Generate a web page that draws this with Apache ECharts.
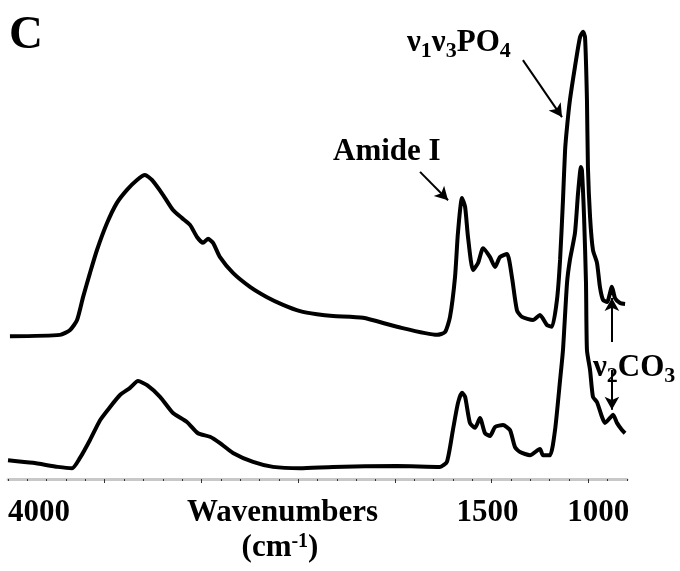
<!DOCTYPE html>
<html>
<head>
<meta charset="utf-8">
<script src="https://cdn.jsdelivr.net/npm/echarts@6/dist/echarts.min.js"></script>
<style>
  html, body { margin: 0; padding: 0; background: #fff; }
  #chart { width: 680px; height: 571px; }
</style>
</head>
<body>
<div id="chart"></div>
<script>
// wavenumbers (cm-1) and absorbance (arbitrary, stacked)
const upperWn = [3990, 3731, 3679, 3643, 3612, 3576, 3540, 3488, 3437, 3385, 3333, 3292, 3256, 3199, 3147, 3100, 3059, 3023, 2992, 2966, 2940, 2904, 2837, 2749, 2661, 2578, 2490, 2403, 2320, 2165, 1989, 1782, 1741, 1715, 1689, 1674, 1653, 1637, 1622, 1596, 1570, 1544, 1508, 1482, 1457, 1420, 1395, 1369, 1343, 1286, 1250, 1214, 1188, 1162, 1146, 1131, 1120, 1110, 1095, 1069, 1043, 1027, 1017, 1007, 1002, 991, 976, 955, 940, 924, 903, 878, 862, 836, 810];
const upperAbs = [31.8, 32.1, 33.2, 35.4, 40.5, 45.9, 51.0, 57.0, 61.5, 64.4, 66.6, 67.7, 66.6, 63.3, 59.9, 58.1, 56.6, 53.9, 52.6, 53.5, 52.6, 49.4, 45.9, 42.8, 40.5, 38.8, 37.4, 36.7, 36.3, 35.9, 33.9, 32.1, 32.7, 36.1, 45.0, 54.8, 62.6, 60.6, 53.9, 46.5, 48.1, 51.4, 49.4, 47.2, 49.4, 50.1, 45.0, 37.6, 36.1, 35.4, 36.5, 34.3, 33.9, 39.9, 48.8, 62.1, 73.3, 78.4, 84.4, 91.8, 98.4, 99.6, 98.4, 84.4, 69.5, 58.4, 51.0, 48.1, 42.8, 39.9, 39.4, 42.8, 40.3, 39.2, 39.0];

const lowerWn = [4000, 3871, 3742, 3669, 3628, 3576, 3524, 3473, 3421, 3369, 3328, 3281, 3214, 3147, 3075, 3018, 2956, 2904, 2837, 2733, 2630, 2490, 2320, 1989, 1767, 1731, 1700, 1674, 1653, 1637, 1612, 1586, 1560, 1534, 1508, 1482, 1441, 1405, 1379, 1353, 1301, 1250, 1234, 1198, 1172, 1146, 1131, 1110, 1095, 1069, 1053, 1038, 1033, 1022, 1012, 1007, 991, 976, 955, 929, 914, 888, 872, 852, 826, 810];
const lowerAbs = [4.2, 3.6, 2.7, 2.4, 4.7, 8.7, 13.1, 16.0, 18.7, 20.3, 21.8, 20.9, 18.3, 14.7, 12.7, 10.2, 9.4, 8.0, 5.8, 3.8, 2.7, 2.4, 2.7, 2.9, 2.7, 3.8, 10.9, 16.9, 19.2, 18.3, 12.5, 11.4, 13.6, 10.2, 9.6, 11.6, 12.0, 10.9, 7.1, 6.0, 5.3, 6.7, 5.3, 5.3, 10.9, 22.0, 28.7, 43.7, 48.8, 54.8, 63.7, 69.5, 68.8, 58.4, 43.7, 28.7, 24.3, 18.3, 17.1, 13.8, 12.5, 13.6, 14.3, 12.5, 10.9, 10.2];

const tickLabels = [4000, 1500, 1000];
const majorTicks = [1000, 1500, 2000, 2500, 3000, 3500];

// annotation arrows: [from, to] in (wavenumber, absorbance)
const amideArrow = [[1870, 68.4], [1725, 62.1]];
const po4Arrow = [[1338, 93.3], [1136, 80.6]];
const co3UpArrow = [[878, 30.5], [878, 40.3]];
const co3DownArrow = [[878, 24.3], [878, 15.4]];

const FONT = '"Liberation Serif", "Times New Roman", serif';

const chart = echarts.init(document.getElementById('chart'));

const pairs = (xs, ys) => xs.map((x, i) => [x, ys[i]]);
const arrow = (a) => [{ coord: a[0] }, { coord: a[1] }];

// rich styles for the chemical labels; top padding pushes the subscripts down
const chemRich = {
  n: { font: 'bold 31px ' + FONT, fill: '#000', lineHeight: 36 },
  s: { font: 'bold 22px ' + FONT, fill: '#000', padding: [16, 0, 0, 0] }
};

const option = {
  animation: false,
  backgroundColor: '#fff',
  grid: { left: 8, right: 53, top: 30, bottom: 92 },
  xAxis: [
    {
      type: 'value',
      min: 800,
      max: 4000,
      interval: 100,
      inverse: true,
      position: 'bottom',
      axisLine: { show: true, lineStyle: { color: '#c8c8c8', width: 3 } },
      axisTick: { show: true, length: 2, lineStyle: { color: '#333', width: 1 } },
      splitLine: { show: false },
      axisLabel: {
        show: true,
        customValues: tickLabels,
        margin: 18,
        fontFamily: FONT,
        fontWeight: 'bold',
        fontSize: 31,
        color: '#000',
        formatter: (v) => {
          if (v === 4000) return '{l|' + v + '}';
          if (v === 1000) return '{r|' + v + '}';
          return '{m|' + v + '}';
        },
        rich: {
          l: { fontFamily: FONT, fontWeight: 'bold', fontSize: 31, color: '#000', padding: [0, 0, 0, 62] },
          m: { fontFamily: FONT, fontWeight: 'bold', fontSize: 31, color: '#000', padding: [0, 8, 0, 0] },
          r: { fontFamily: FONT, fontWeight: 'bold', fontSize: 31, color: '#000', padding: [0, 0, 0, 20] }
        }
      }
    },
    {
      type: 'value',
      min: 800,
      max: 4000,
      interval: 100,
      inverse: true,
      position: 'bottom',
      axisLine: { show: false },
      axisTick: { show: true, customValues: majorTicks, length: 4, lineStyle: { color: '#333', width: 1 } },
      axisLabel: { show: false },
      splitLine: { show: false }
    }
  ],
  yAxis: {
    type: 'value',
    min: 0,
    max: 100,
    show: false
  },
  series: [
    {
      name: 'upper',
      type: 'line',
      data: pairs(upperWn, upperAbs),
      showSymbol: false,
      smooth: 0.2,
      lineStyle: { color: '#000', width: 4 },
      markLine: {
        silent: true,
        symbol: ['none', 'arrow'],
        symbolSize: [11, 13],
        label: { show: false },
        lineStyle: { color: '#000', width: 2, type: 'solid' },
        data: [arrow(amideArrow), arrow(po4Arrow), arrow(co3UpArrow), arrow(co3DownArrow)]
      }
    },
    {
      name: 'lower',
      type: 'line',
      data: pairs(lowerWn, lowerAbs),
      showSymbol: false,
      smooth: 0.2,
      lineStyle: { color: '#000', width: 4 }
    }
  ],
  graphic: [
    {
      type: 'text', left: 9, top: 12,
      style: { text: 'C', font: 'bold 47px ' + FONT, fill: '#000' }
    },
    {
      type: 'text', x: 333, y: 152,
      style: { text: 'Amide I', font: 'bold 31px ' + FONT, fill: '#000', verticalAlign: 'middle' }
    },
    {
      type: 'text', x: 407, y: 43,
      style: { text: '{n|ν}{s|1}{n|ν}{s|3}{n|PO}{s|4}', verticalAlign: 'middle', rich: chemRich }
    },
    {
      type: 'text', x: 593, y: 368,
      style: { text: '{n|ν}{s|2}{n|CO}{s|3}', verticalAlign: 'middle', rich: chemRich }
    },
    {
      type: 'text', x: 187, y: 513,
      style: { text: 'Wavenumbers', font: 'bold 31px ' + FONT, fill: '#000', verticalAlign: 'middle' }
    },
    {
      type: 'text', x: 280, y: 549,
      style: {
        text: '{n|(cm}{p|-1}{n|)}',
        align: 'center',
        verticalAlign: 'middle',
        rich: {
          n: { font: 'bold 31px ' + FONT, fill: '#000', lineHeight: 34, verticalAlign: 'top' },
          p: { font: 'bold 20px ' + FONT, fill: '#000', lineHeight: 20, verticalAlign: 'top' }
        }
      }
    }
  ]
};

chart.setOption(option);
</script>
</body>
</html>
